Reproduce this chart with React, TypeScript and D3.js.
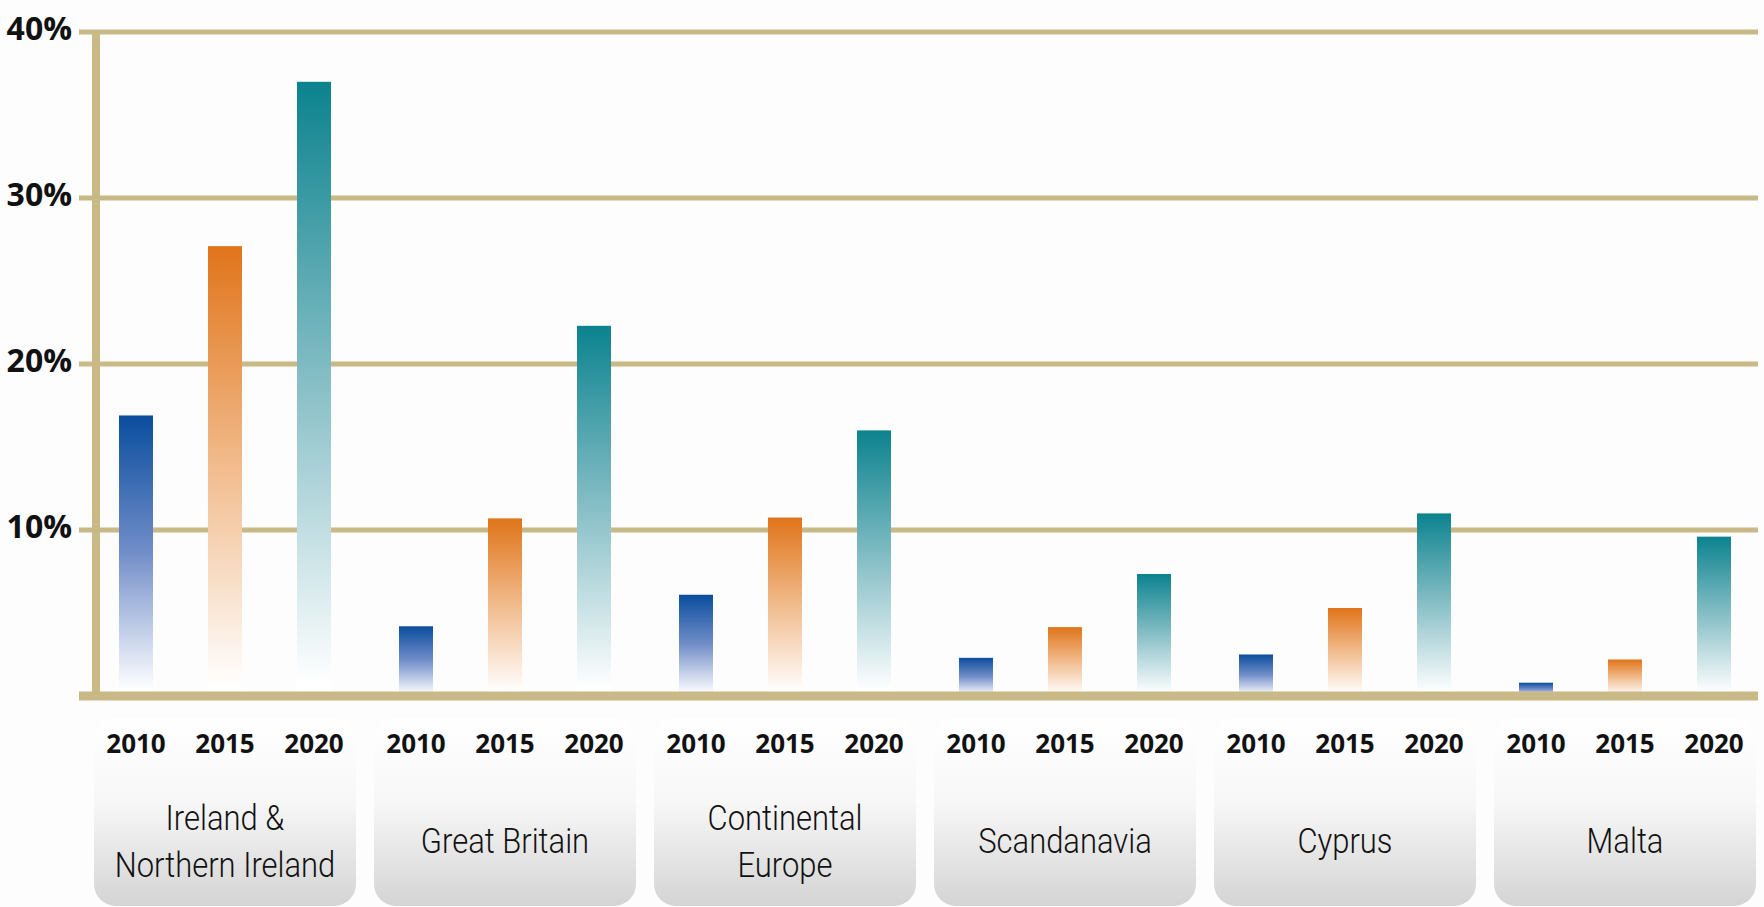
import React, { useRef, useEffect } from 'react';
import * as d3 from 'd3';

const regions = ['Ireland & Northern Ireland', 'Great Britain', 'Continental Europe', 'Scandanavia', 'Cyprus', 'Malta'];
const regionLines = [['Ireland &', 'Northern Ireland'], ['Great Britain'], ['Continental', 'Europe'], ['Scandanavia'], ['Cyprus'], ['Malta']];
const years = ['2010', '2015', '2020'];
const values2010 = [16.9, 4.2, 6.1, 2.3, 2.5, 0.8];
const values2015 = [27.1, 10.7, 10.75, 4.15, 5.3, 2.2];
const values2020 = [37.0, 22.3, 16.0, 7.35, 11.0, 9.6];
const yTicks = [10, 20, 30, 40];

const W = 1764;
const H = 907;
const GOLD = '#c8b987';

const App = () => {
  const svgRef = useRef<SVGSVGElement | null>(null);

  useEffect(() => {
    draw();
  }, []);

  const draw = () => {
    const svg = d3.select(svgRef.current);
    svg.selectAll('*').remove();

    const seriesByYear: Record<string, number[]> = { '2010': values2010, '2015': values2015, '2020': values2020 };
    const rows = regions.map((r, i) => ({ region: r, lines: regionLines[i], vals: years.map((y) => ({ year: y, v: seriesByYear[y][i] })) }));

    const x0 = d3.scaleBand().domain(regions).range([85, 85 + 280 * 6]).padding(0);
    const x1 = d3.scalePoint().domain(years).range([51, 229]);
    const y = d3.scaleLinear().domain([0, 40]).range([696, 32]);
    const barW = 34;

    const defs = svg.append('defs');
    // bar gradients: dark at top fading to white at bottom
    const grads: Record<string, string[]> = {
      '2010': ['#0a4d9d', '#6f8cc8', '#ffffff'],
      '2015': ['#e0741a', '#f1ba8a', '#ffffff'],
      '2020': ['#0b838e', '#84bdc5', '#ffffff'],
    };
    years.forEach((yr) => {
      const g = defs.append('linearGradient').attr('id', 'g' + yr).attr('x1', 0).attr('y1', 0).attr('x2', 0).attr('y2', 1);
      g.append('stop').attr('offset', '0%').attr('stop-color', grads[yr][0]);
      g.append('stop').attr('offset', '48%').attr('stop-color', grads[yr][1]);
      g.append('stop').attr('offset', '98%').attr('stop-color', grads[yr][2]);
    });
    const bg = defs.append('linearGradient').attr('id', 'boxg').attr('x1', 0).attr('y1', 0).attr('x2', 0).attr('y2', 1);
    bg.append('stop').attr('offset', '0%').attr('stop-color', '#ffffff');
    bg.append('stop').attr('offset', '45%').attr('stop-color', '#f7f7f7');
    bg.append('stop').attr('offset', '100%').attr('stop-color', '#d4d4d4');

    svg.append('rect').attr('width', W).attr('height', H).attr('fill', '#fdfdfd');

    // label boxes
    svg.append('g').selectAll('rect')
      .data(rows)
      .enter()
      .append('rect')
      .attr('x', (d) => (x0(d.region) as number) + 9)
      .attr('y', 718)
      .attr('width', 262)
      .attr('height', 188)
      .attr('rx', 22)
      .attr('fill', 'url(#boxg)');

    // gridlines
    svg.append('g').selectAll('line')
      .data(yTicks)
      .enter()
      .append('line')
      .attr('x1', 79)
      .attr('x2', 1758)
      .attr('y1', (d) => y(d))
      .attr('y2', (d) => y(d))
      .attr('stroke', GOLD)
      .attr('stroke-width', 5);

    // bars
    const groups = svg.append('g').selectAll('g')
      .data(rows)
      .enter()
      .append('g')
      .attr('transform', (d) => `translate(${x0(d.region)},0)`);

    groups.selectAll('rect')
      .data((d) => d.vals)
      .enter()
      .append('rect')
      .attr('x', (d) => (x1(d.year) as number) - barW / 2)
      .attr('y', (d) => y(d.v))
      .attr('width', barW)
      .attr('height', (d) => y(0) - y(d.v))
      .attr('fill', (d) => `url(#g${d.year})`);

    // year labels
    groups.selectAll('text.yr')
      .data((d) => d.vals)
      .enter()
      .append('text')
      .attr('class', 'yr')
      .attr('x', (d) => x1(d.year) as number)
      .attr('y', 753)
      .attr('text-anchor', 'middle')
      .style('font-family', '"Open Sans", sans-serif')
      .style('font-weight', 700)
      .style('font-size', '26px')
      .attr('fill', '#111')
      .text((d) => d.year);

    // region labels
    groups.each(function (d) {
      const g = d3.select(this);
      const baselines = d.lines.length === 2 ? [830, 877] : [853];
      d.lines.forEach((line, i) => {
        g.append('text')
          .attr('transform', `translate(140,${baselines[i]}) scale(0.86,1)`)
          .attr('text-anchor', 'middle')
          .style('font-family', 'Roboto, sans-serif')
          .style('font-weight', 300)
          .style('font-size', '36px')
          .attr('fill', '#111')
          .text(line);
      });
    });

    // axes
    svg.append('line')
      .attr('x1', 96).attr('x2', 96)
      .attr('y1', y(40) - 2).attr('y2', y(0))
      .attr('stroke', GOLD).attr('stroke-width', 8);
    svg.append('line')
      .attr('x1', 79).attr('x2', 1758)
      .attr('y1', y(0)).attr('y2', y(0))
      .attr('stroke', GOLD).attr('stroke-width', 9);

    // y tick labels
    svg.append('g').selectAll('text')
      .data(yTicks)
      .enter()
      .append('text')
      .attr('x', 72)
      .attr('y', (d) => y(d) + 8)
      .attr('text-anchor', 'end')
      .style('font-family', '"Open Sans", sans-serif')
      .style('font-weight', 700)
      .style('font-size', '32px')
      .attr('fill', '#111')
      .text((d) => d + '%');
  };

  return (
    <svg ref={svgRef} width={W} height={H} style={{ position: 'absolute', left: 0, top: 0 }} />
  );
};

export default App;
